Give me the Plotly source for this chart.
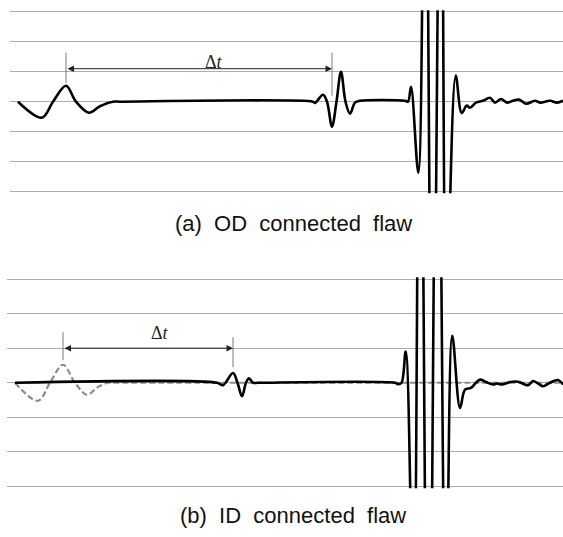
import plotly.graph_objects as go

# ---------------------------------------------------------------
# (a) OD connected flaw: received signal (time in samples, amplitude in grid units)
od_time = [8, 32, 43, 56, 66, 79, 90, 103, 110, 303, 305, 313, 317, 322, 326.5,
           331, 335.5, 340, 345, 350, 395, 398, 401, 408.3, 415, 422.5, 431,
           436.5, 445.7, 451.7, 456.7, 460, 466, 473, 480, 485, 491, 497, 503,
           509, 516, 525, 530, 540, 547, 553]
od_amp = [0, -0.53, 0, 0.53, 0, -0.37, -0.15, 0, 0, 0, -0.04, 0.23, 0, -0.83, 0,
          1.0, 0, -0.4, -0.03, 0.03, 0.03, 0, 0.5, -2.37, 12, -12, 12,
          -7, 0.87, -0.38, -0.13, -0.2, -0.03, 0.03, 0.13, -0.03, 0.09, -0.03, 0.03,
          0.07, -0.07, 0.03, -0.03, 0.03, -0.03, 0.03]

# (b) ID connected flaw: received signal
id_time = [8, 210, 216, 226, 230.5, 235, 239, 242, 246, 251, 388, 391, 394.5,
           398.7, 406.5, 413, 421.5, 430.5, 439, 445.3, 453, 458, 464, 469, 473,
           479, 486, 490, 495, 503, 511, 521, 526, 531, 536, 543, 551, 556]
id_amp = [0, 0, -0.07, 0.28, 0, -0.39, 0, 0.13, 0, 0, 0, -0.04, 0,
          0.9, -7, 12, -12, 12, -8, 1.36, -0.73, -0.2, -0.15, 0, 0.09,
          0.02, -0.05, -0.02, -0.05, 0.02, 0.03, -0.07, 0.05, -0.02, -0.1, 0, 0.08, -0.05]

# (b) reference signal (dashed)
ref_time = [8, 31, 43, 56, 68, 80, 91, 101, 108, 556]
ref_amp = [0, -0.52, 0, 0.52, 0, -0.35, -0.12, 0, 0, 0]

grid_vals = [-3, -2, -1, 0, 1, 2, 3]
captions = ["(a)  OD  connected  flaw", "(b)  ID  connected  flaw"]
dt_label = "Δ<i>t</i>"

# ---------------------------------------------------------------
W, H = 563, 537
GRID = "#adadad"
WAVE = "#000000"
MARK = "#7a7a7a"
PAD = 0.05  # small headroom so the outermost grid lines are kept


def peak_time(ts, ys, lo, hi, mode="max"):
    pts = [(t, y) for t, y in zip(ts, ys) if lo <= t <= hi]
    pick = max if mode == "max" else min
    return pick(pts, key=lambda p: p[1])[0]


def y_domain(top_px, bottom_px):
    # pixel rows of the +3 / -3 grid lines -> paper domain including the padding
    per_unit = (bottom_px - top_px) / 6.0
    return [1 - (bottom_px + PAD * per_unit) / H, 1 - (top_px - PAD * per_unit) / H]


fig = go.Figure()

fig.add_trace(go.Scatter(x=od_time, y=od_amp, mode="lines",
                         line=dict(color=WAVE, width=2.6, shape="spline"),
                         xaxis="x", yaxis="y", showlegend=False, hoverinfo="skip"))
fig.add_trace(go.Scatter(x=ref_time, y=ref_amp, mode="lines",
                         line=dict(color="#8c8c8c", width=2.2, shape="spline", dash="6px,3px"),
                         xaxis="x2", yaxis="y2", showlegend=False, hoverinfo="skip"))
fig.add_trace(go.Scatter(x=id_time, y=id_amp, mode="lines",
                         line=dict(color=WAVE, width=2.6, shape="spline"),
                         xaxis="x2", yaxis="y2", showlegend=False, hoverinfo="skip"))

# Time-of-flight markers
od_t0 = peak_time(od_time, od_amp, 0, 150, "max")
od_t1 = peak_time(od_time, od_amp, 300, 360, "min")
id_t0 = peak_time(ref_time, ref_amp, 0, 150, "max")
id_t1 = peak_time(id_time, id_amp, 200, 260, "max")

markers = [
    ("x", "y", od_t0, 0.63, 1.63),
    ("x", "y", od_t1, 0.2, 1.63),
    ("x2", "y2", id_t0, 0.65, 1.46),
    ("x2", "y2", id_t1, 0.45, 1.32),
]
for xr, yr, t, y0, y1 in markers:
    fig.add_shape(type="line", xref=xr, yref=yr, x0=t, x1=t, y0=y0, y1=y1,
                  line=dict(color=MARK, width=1))

for xr, yr, t0, t1, ya, ylab, shift in [("x", "y", od_t0, od_t1, 1.1, 1.33, 15),
                                        ("x2", "y2", id_t0, id_t1, 1.0, 1.43, 12)]:
    fig.add_annotation(x=t1, y=ya, ax=t0, ay=ya, xref=xr, yref=yr, axref=xr, ayref=yr,
                       text="", showarrow=True, arrowside="end+start",
                       arrowhead=2, startarrowhead=2, arrowsize=1.3, startarrowsize=1.3,
                       arrowwidth=1, arrowcolor="#222222")
    fig.add_annotation(x=(t0 + t1) / 2, y=ylab, xref=xr, yref=yr, xshift=shift,
                       text=dt_label, showarrow=False, yanchor="middle",
                       font=dict(family="Liberation Serif", size=18, color="#222222"))

# Captions
fig.add_annotation(x=293.5 / W, y=1 - 223 / H, xref="paper", yref="paper",
                   text=captions[0], showarrow=False, xanchor="center", yanchor="middle",
                   font=dict(family="Liberation Sans", size=22, color="#111111"))
fig.add_annotation(x=293 / W, y=1 - 515 / H, xref="paper", yref="paper",
                   text=captions[1], showarrow=False, xanchor="center", yanchor="middle",
                   font=dict(family="Liberation Sans", size=22, color="#111111"))

xcommon = dict(showgrid=False, zeroline=False, showticklabels=False, ticks="", showline=False)
ycommon = dict(range=[-3 - PAD, 3 + PAD], tickvals=grid_vals, showgrid=True, gridcolor=GRID,
               gridwidth=1.2, zeroline=False, showticklabels=False, ticks="", showline=False)

fig.update_layout(
    width=W, height=H,
    margin=dict(l=0, r=0, t=0, b=0),
    paper_bgcolor="white", plot_bgcolor="white",
    xaxis=dict(domain=[10 / W, 1], range=[0, 553], anchor="y", **xcommon),
    yaxis=dict(domain=y_domain(11.7, 191.7), anchor="x", **ycommon),
    xaxis2=dict(domain=[7 / W, 1], range=[0, 556], anchor="y2", **xcommon),
    yaxis2=dict(domain=y_domain(279, 486.5), anchor="x2", **ycommon),
)

fig.write_html("out.html")
